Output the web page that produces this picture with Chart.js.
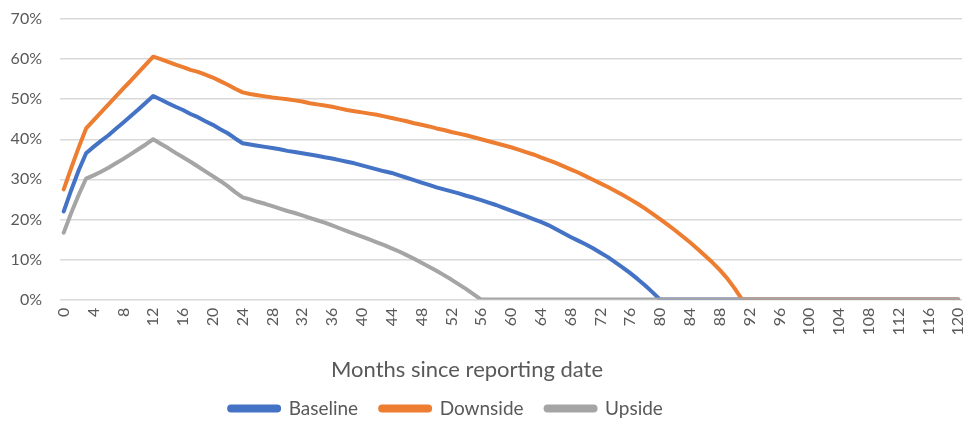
<!DOCTYPE html>
<html>
<head>
<meta charset="utf-8">
<script src="https://cdn.jsdelivr.net/npm/chart.js"></script>
<style>
    body { margin: 0; background: #fff; }
    .GraficoCenarios { width: 965px; height: 423px; }
</style>
</head>
<body>
<div class="GraficoCenarios"><canvas id="GraficoCenarios"></canvas></div>
<script>
/*Meses desde a data de reporte*/
var meses = [
    '0', '1', '2', '3', '4', '5', '6', '7', '8', '9', '10', '11',
    '12', '13', '14', '15', '16', '17', '18', '19', '20', '21', '22', '23',
    '24', '25', '26', '27', '28', '29', '30', '31', '32', '33', '34', '35',
    '36', '37', '38', '39', '40', '41', '42', '43', '44', '45', '46', '47',
    '48', '49', '50', '51', '52', '53', '54', '55', '56', '57', '58', '59',
    '60', '61', '62', '63', '64', '65', '66', '67', '68', '69', '70', '71',
    '72', '73', '74', '75', '76', '77', '78', '79', '80', '81', '82', '83',
    '84', '85', '86', '87', '88', '89', '90', '91', '92', '93', '94', '95',
    '96', '97', '98', '99', '100', '101', '102', '103', '104', '105', '106', '107',
    '108', '109', '110', '111', '112', '113', '114', '115', '116', '117', '118', '119',
    '120'
];

/*Valores em % por cenário*/
var baseline = [
    22.0, 27.3, 32.2, 36.5, 38.1, 39.6, 41.0, 42.6, 44.2, 45.8, 47.4, 49.1,
    50.8, 49.9, 49.0, 48.1, 47.3, 46.3, 45.5, 44.5, 43.6, 42.5, 41.5, 40.2,
    39.0, 38.7, 38.4, 38.1, 37.8, 37.5, 37.1, 36.8, 36.5, 36.2, 35.9, 35.5,
    35.2, 34.8, 34.4, 34.0, 33.5, 33.0, 32.5, 32.0, 31.6, 31.0, 30.4, 29.8,
    29.2, 28.6, 28.0, 27.5, 27.0, 26.5, 25.9, 25.4, 24.8, 24.2, 23.6, 22.9,
    22.2, 21.5, 20.8, 20.1, 19.4, 18.6, 17.6, 16.6, 15.6, 14.7, 13.8, 12.8,
    11.7, 10.6, 9.3, 8.0, 6.6, 5.1, 3.5, 1.8, 0, 0, 0, 0,
    0, 0, 0, 0, 0, 0, 0, 0, 0, 0, 0, 0,
    0, 0, 0, 0, 0, 0, 0, 0, 0, 0, 0, 0,
    0, 0, 0, 0, 0, 0, 0, 0, 0, 0, 0, 0,
    0
];

var downside = [
    27.5, 32.8, 37.9, 42.7, 44.7, 46.7, 48.7, 50.7, 52.7, 54.6, 56.6, 58.6,
    60.6, 60.0, 59.3, 58.6, 58.0, 57.3, 56.8, 56.1, 55.4, 54.5, 53.6, 52.6,
    51.7, 51.3, 51.0, 50.7, 50.4, 50.2, 50.0, 49.7, 49.4, 49.0, 48.7, 48.4,
    48.1, 47.7, 47.3, 47.0, 46.7, 46.4, 46.1, 45.7, 45.3, 44.9, 44.5, 44.0,
    43.6, 43.2, 42.7, 42.3, 41.8, 41.4, 41.0, 40.5, 40.0, 39.5, 39.0, 38.5,
    38.0, 37.4, 36.8, 36.2, 35.5, 34.8, 34.1, 33.3, 32.5, 31.7, 30.8, 29.9,
    29.0, 28.1, 27.1, 26.1, 25.0, 23.9, 22.7, 21.4, 20.1, 18.7, 17.3, 15.8,
    14.3, 12.7, 11.0, 9.3, 7.4, 5.3, 2.8, 0, 0, 0, 0, 0,
    0, 0, 0, 0, 0, 0, 0, 0, 0, 0, 0, 0,
    0, 0, 0, 0, 0, 0, 0, 0, 0, 0, 0, 0,
    0
];

var upside = [
    16.7, 21.6, 26.1, 30.2, 31.0, 31.9, 32.9, 34.0, 35.1, 36.3, 37.5, 38.7,
    40.0, 38.9, 37.8, 36.6, 35.5, 34.4, 33.2, 32.0, 30.8, 29.6, 28.3, 26.8,
    25.5, 25.0, 24.4, 23.9, 23.3, 22.7, 22.1, 21.6, 21.0, 20.4, 19.8, 19.2,
    18.5, 17.8, 17.1, 16.4, 15.7, 15.0, 14.3, 13.6, 12.8, 12.0, 11.1, 10.2,
    9.2, 8.2, 7.2, 6.1, 5.0, 3.8, 2.6, 1.3, 0, 0, 0, 0,
    0, 0, 0, 0, 0, 0, 0, 0, 0, 0, 0, 0,
    0, 0, 0, 0, 0, 0, 0, 0, 0, 0, 0, 0,
    0, 0, 0, 0, 0, 0, 0, 0, 0, 0, 0, 0,
    0, 0, 0, 0, 0, 0, 0, 0, 0, 0, 0, 0,
    0, 0, 0, 0, 0, 0, 0, 0, 0, 0, 0, 0,
    0
];

var corTexto = '#595959';
var fonte = 'Lato, "Open Sans", sans-serif';

/*Puxa título e legenda um pouco para a esquerda, como no Excel*/
var deslocarRodape = {
    id: 'deslocarRodape',
    afterLayout: function (chart) {
        chart.legend.left -= 35;
        chart.legend.right -= 35;
        chart.titleBlock.left -= 14;
        chart.titleBlock.right -= 14;
    }
};

/*Construção do gráfico*/
function CarregarGraficoCenarios() {
    var ctx = document.getElementById('GraficoCenarios').getContext('2d');

    var grafico = new Chart(ctx, {
        type: 'line',

        data: {
            labels: meses,
            /*Upside primeiro para ficar por cima na linha do zero; a legenda é invertida*/
            datasets: [{
                label: 'Upside',
                data: upside,
                borderColor: '#a5a5a5',
                backgroundColor: '#a5a5a5'
            }, {
                label: 'Downside',
                data: downside,
                borderColor: '#ed7d31',
                backgroundColor: '#ed7d31'
            }, {
                label: 'Baseline',
                data: baseline,
                borderColor: '#4472c4',
                backgroundColor: '#4472c4'
            }]
        },
        plugins: [deslocarRodape],
        options: {
            responsive: true,
            maintainAspectRatio: false,
            animation: false,
            layout: {
                padding: { top: 19, right: 3, left: 0, bottom: -5 }
            },
            elements: {
                line: { borderWidth: 4, tension: 0, borderCapStyle: 'round', borderJoinStyle: 'round' },
                point: { radius: 0, hoverRadius: 0 }
            },
            scales: {
                x: {
                    offset: true,
                    grid: { display: false, drawTicks: false },
                    border: { display: false },
                    afterFit: function (scale) {
                        scale.paddingLeft = 0;
                        scale.paddingRight = 0;
                        scale.height = 37;
                    },
                    ticks: {
                        autoSkip: false,
                        maxRotation: 90,
                        minRotation: 90,
                        padding: 8,
                        color: corTexto,
                        font: { family: fonte, size: 16 },
                        callback: function (value, index) {
                            return index % 4 === 0 ? this.getLabelForValue(value) : '';
                        }
                    }
                },
                y: {
                    min: 0,
                    max: 70,
                    border: { display: false },
                    grid: { color: '#d9d9d9', lineWidth: 1.5, drawTicks: false },
                    afterFit: function (scale) {
                        scale.width = 60;
                        scale.paddingTop = 0;
                    },
                    ticks: {
                        stepSize: 10,
                        padding: 18,
                        color: corTexto,
                        font: { family: fonte, size: 16 },
                        callback: function (value) {
                            return value + '%';
                        }
                    }
                }
            },
            plugins: {
                title: {
                    display: true,
                    position: 'bottom',
                    weight: 500,
                    text: 'Months since reporting date',
                    color: corTexto,
                    font: { family: fonte, size: 22, weight: 'normal' },
                    padding: { top: 20, bottom: -6 }
                },
                legend: {
                    position: 'bottom',
                    reverse: true,
                    labels: {
                        boxWidth: 50,
                        boxHeight: 4,
                        useBorderRadius: true,
                        borderRadius: 2,
                        padding: 22,
                        color: corTexto,
                        font: { family: fonte, size: 19 }
                    }
                },
                tooltip: { enabled: false }
            }
        }
    });
}

CarregarGraficoCenarios();
</script>
</body>
</html>
